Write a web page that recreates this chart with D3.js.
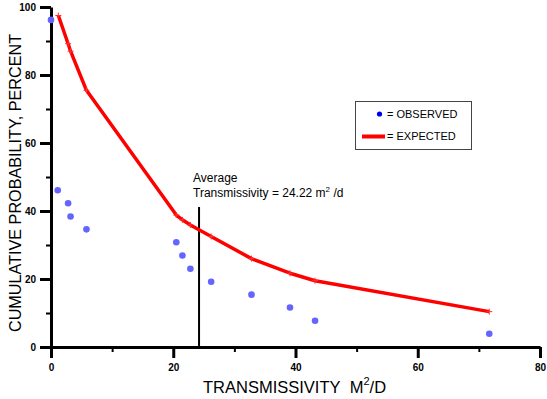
<!DOCTYPE html>
<html>
<head>
<meta charset="utf-8">
<script src="https://cdn.jsdelivr.net/npm/d3@7"></script>
<style>
  body { margin: 0; background: #fff; }
  svg { display: block; font-family: Arial, "Liberation Sans", sans-serif; }
</style>
</head>
<body>
<div id="chart"></div>
<script>
// observed data
const obsX = [0, 1.1, 2.8, 3.2, 5.8, 20.5, 21.5, 22.8, 26.2, 32.8, 39.1, 43.2, 71.7];
const obsY = [96.2, 46.1, 42.3, 38.4, 34.6, 30.8, 26.9, 23.0, 19.2, 15.4, 11.6, 7.7, 3.9];

// expected curve
const expX = [1.2, 2.8, 3.2, 5.8, 20.5, 21.5, 22.8, 26.2, 32.8, 39.1, 43.2, 71.7];
const expY = [97.5, 89.2, 87.0, 75.5, 38.8, 37.4, 35.9, 32.5, 26.0, 21.7, 19.5, 10.4];

const xMajor = [0, 20, 40, 60, 80];
const xMinor = [10, 30, 50, 70];
const yMajor = [0, 20, 40, 60, 80, 100];
const yMinor = [10, 30, 50, 70, 90];

const avgT = 24.22;

const width = 547, height = 399;

const svg = d3.select("#chart").append("svg")
  .attr("width", width)
  .attr("height", height);

const x = d3.scaleLinear().domain([0, 80]).range([51, 540]);
const y = d3.scaleLinear().domain([0, 100]).range([347, 7]);

// minor ticks
const xMinorAxis = svg.append("g")
  .attr("transform", `translate(0,${y(0)})`)
  .call(d3.axisBottom(x).tickValues(xMinor).tickSize(5).tickFormat(""));
xMinorAxis.select(".domain").remove();
xMinorAxis.selectAll("line").attr("stroke-width", 2);

const yMinorAxis = svg.append("g")
  .attr("transform", `translate(${x(0)},0)`)
  .call(d3.axisLeft(y).tickValues(yMinor).tickSize(5).tickFormat(""));
yMinorAxis.select(".domain").remove();
yMinorAxis.selectAll("line").attr("stroke-width", 2);

// major ticks + labels
const xAxis = svg.append("g")
  .attr("transform", `translate(0,${y(0)})`)
  .call(d3.axisBottom(x).tickValues(xMajor).tickSize(11).tickSizeOuter(0));
xAxis.select(".domain").attr("stroke-width", 3);
xAxis.selectAll(".tick line").attr("stroke-width", 3);
xAxis.selectAll("text")
  .attr("font-size", 10)
  .attr("font-weight", "bold")
  .attr("y", 17)
  .attr("fill", "#000");

const yAxis = svg.append("g")
  .attr("transform", `translate(${x(0)},0)`)
  .call(d3.axisLeft(y).tickValues(yMajor).tickSize(11).tickSizeOuter(0));
yAxis.select(".domain").attr("stroke-width", 3);
yAxis.selectAll(".tick line").attr("stroke-width", 3);
yAxis.selectAll("text")
  .attr("font-size", 10)
  .attr("font-weight", "bold")
  .attr("x", -15)
  .attr("fill", "#000");

// average line
svg.append("line")
  .attr("x1", x(avgT)).attr("x2", x(avgT))
  .attr("y1", 207).attr("y2", y(0))
  .attr("stroke", "#000")
  .attr("stroke-width", 2);

const ann = svg.append("text")
  .attr("x", 193)
  .attr("font-size", 12)
  .attr("fill", "#000");
ann.append("tspan").attr("x", 193).attr("y", 182).text("Average");
const l2 = ann.append("tspan").attr("x", 193).attr("y", 197);
l2.append("tspan").text(`Transmissivity = ${avgT} m`);
l2.append("tspan").attr("font-size", 8).attr("dy", -5).text("2");
l2.append("tspan").attr("dy", 5).text(" /d");

// expected line
const expData = expX.map((v, i) => [v, expY[i]]);
svg.append("path")
  .datum(expData)
  .attr("fill", "none")
  .attr("stroke", "#ff0000")
  .attr("stroke-width", 3.5)
  .attr("stroke-linejoin", "round")
  .attr("d", d3.line().x(d => x(d[0])).y(d => y(d[1])));

// "+" markers on expected
svg.append("g").selectAll("path")
  .data(expData)
  .join("path")
  .attr("d", d => `M${x(d[0]) - 3},${y(d[1])}h6M${x(d[0])},${y(d[1]) - 3}v6`)
  .attr("stroke", "#ff3030")
  .attr("stroke-width", 1);

// observed points
svg.append("g").selectAll("circle")
  .data(obsX.map((v, i) => [v, obsY[i]]))
  .join("circle")
  .attr("cx", d => x(d[0]))
  .attr("cy", d => y(d[1]))
  .attr("r", 3.3)
  .attr("fill", "#6464ff");

// legend
const lg = svg.append("g");
lg.append("rect")
  .attr("x", 355.5).attr("y", 101.5)
  .attr("width", 116).attr("height", 48)
  .attr("fill", "#fff")
  .attr("stroke", "#444")
  .attr("stroke-width", 1);
lg.append("circle").attr("cx", 379.5).attr("cy", 114).attr("r", 2.6).attr("fill", "#0000ee");
lg.append("text").attr("x", 387).attr("y", 118).attr("font-size", 11).text("= OBSERVED");
lg.append("line")
  .attr("x1", 362).attr("x2", 385)
  .attr("y1", 136.5).attr("y2", 136.5)
  .attr("stroke", "#ff0000").attr("stroke-width", 4);
lg.append("text").attr("x", 387).attr("y", 140).attr("font-size", 11).text("= EXPECTED");

// axis titles
const xt = svg.append("text")
  .attr("x", 203).attr("y", 393)
  .attr("font-size", 16.5)
  .attr("fill", "#000");
xt.append("tspan").text("TRANSMISSIVITY\u00a0\u00a0M");
xt.append("tspan").attr("font-size", 11).attr("dy", -8).text("2");
xt.append("tspan").attr("dy", 8).text("/D");

svg.append("text")
  .attr("transform", "translate(21,183) rotate(-90)")
  .attr("text-anchor", "middle")
  .attr("font-size", 16.2)
  .attr("fill", "#000")
  .text("CUMULATIVE PROBABILITY, PERCENT");
</script>
</body>
</html>
